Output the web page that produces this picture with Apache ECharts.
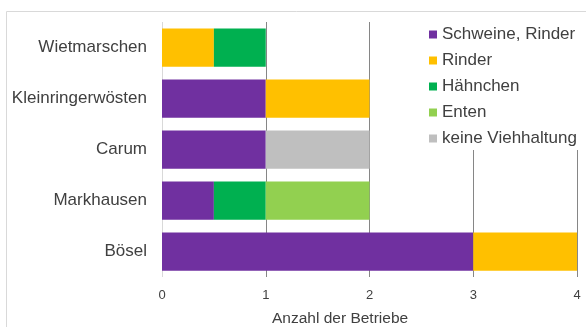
<!DOCTYPE html>
<html>
<head>
<meta charset="utf-8">
<script src="https://cdn.jsdelivr.net/npm/echarts@6/dist/echarts.min.js"></script>
<style>
  html, body { margin: 0; padding: 0; background: #fff; }
  #chart { width: 586px; height: 327px; }
</style>
</head>
<body>
<div id="chart"></div>
<script>
// Ortschaften (von oben nach unten)
const orte = ['Wietmarschen', 'Kleinringerwösten', 'Carum', 'Markhausen', 'Bösel'];

// Anzahl der Betriebe je Haltungsform
const schweineRinder = [0, 1, 1, 0.5, 3];
const rinder = [0.5, 1, 0, 0, 1];
const haehnchen = [0.5, 0, 0, 0.5, 0];
const enten = [0, 0, 0, 1, 0];
const keineViehhaltung = [0, 0, 1, 0, 0];

const xTicks = [0, 1, 2, 3, 4];

const textColor = '#404040';
const fontFamily = '"Liberation Sans", Arial, sans-serif';

function serie(name, data, color) {
  return {
    name: name,
    type: 'bar',
    stack: 'gesamt',
    data: data,
    barCategoryGap: '25%',
    itemStyle: { color: color },
    emphasis: { disabled: true }
  };
}

const chart = echarts.init(document.getElementById('chart'));
chart.setOption({
  animation: false,
  textStyle: { fontFamily: fontFamily, color: textColor },
  grid: { left: 162, right: 9, top: 22, bottom: 50, containLabel: false },
  xAxis: {
    type: 'value',
    min: xTicks[0],
    max: xTicks[xTicks.length - 1],
    interval: 1,
    axisLine: { show: false },
    axisTick: { show: false },
    axisLabel: { fontSize: 13, color: textColor, margin: 12, fontFamily: fontFamily },
    splitLine: {
      show: true,
      lineStyle: { color: ['#d9d9d9', '#868686', '#868686', '#868686', '#868686'], width: 1 }
    }
  },
  yAxis: {
    type: 'category',
    data: orte,
    inverse: true,
    axisLine: { show: false },
    axisTick: { show: false },
    axisLabel: { fontSize: 17, color: textColor, margin: 15, fontFamily: fontFamily }
  },
  legend: {
    orient: 'vertical',
    left: 424,
    top: 21,
    itemWidth: 8,
    itemHeight: 8,
    itemGap: 9,
    icon: 'rect',
    selectedMode: false,
    textStyle: { fontSize: 17, color: textColor, fontFamily: fontFamily },
    data: ['Schweine, Rinder', 'Rinder', 'Hähnchen', 'Enten', 'keine Viehhaltung']
  },
  graphic: [
    {
      type: 'rect',
      z: 3,
      silent: true,
      shape: { x: 400, y: 21, width: 186, height: 129 },
      style: { fill: '#ffffff' }
    },
    {
      type: 'rect',
      z: 10,
      silent: true,
      shape: { x: 6.5, y: 11.5, width: 700, height: 400 },
      style: { fill: 'none', stroke: '#d9d9d9', lineWidth: 1 }
    },
    {
      type: 'text',
      z: 10,
      left: 272,
      top: 311,
      style: { text: 'Anzahl der Betriebe', fontSize: 15.5, fill: textColor, fontFamily: fontFamily }
    }
  ],
  series: [
    serie('Schweine, Rinder', schweineRinder, '#7030a0'),
    serie('Rinder', rinder, '#ffc000'),
    serie('Hähnchen', haehnchen, '#00b050'),
    serie('Enten', enten, '#92d050'),
    serie('keine Viehhaltung', keineViehhaltung, '#bfbfbf')
  ]
});
</script>
</body>
</html>
